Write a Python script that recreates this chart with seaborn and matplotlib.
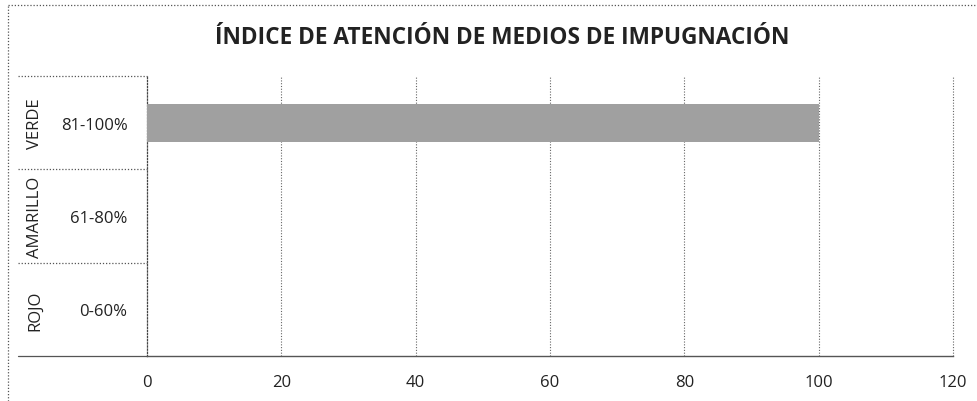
import seaborn as sns
import pandas as pd
import matplotlib.pyplot as plt
from matplotlib.lines import Line2D

# data
grupos = ['VERDE', 'AMARILLO', 'ROJO']
rangos = ['81-100%', '61-80%', '0-60%']
valores = [100, 0, 0]
x_ticks = [0, 20, 40, 60, 80, 100, 120]
titulo = 'ÍNDICE DE ATENCIÓN DE MEDIOS DE IMPUGNACIÓN'

df = pd.DataFrame({'Rango': rangos, 'Grupo': grupos, 'Valor': valores})

sns.set_style('white')
plt.rcParams['font.family'] = ['Open Sans', 'DejaVu Sans']

fig = plt.figure(figsize=(9.77, 4.02), dpi=100)
ax = fig.add_axes([147 / 977, 1 - 357 / 402, 806 / 977, 280 / 402])

sns.barplot(data=df, x='Valor', y='Rango', orient='h', color='#a0a0a0',
            width=0.41, saturation=1, linewidth=0, ax=ax, zorder=3)
ax.set_xlim(0, 120)
ax.set_ylim(2.5, -0.5)
ax.set_xticks(x_ticks)
ax.set_xticklabels([str(t) for t in x_ticks], fontsize=12, color='#222222')
ax.tick_params(axis='x', length=0, pad=13)
ax.tick_params(axis='y', length=0, pad=14, labelsize=12, labelcolor='#222222')
ax.set_xlabel('')
ax.set_ylabel('')

# dotted vertical gridlines
dot = (0, (1, 1.5))
for t in x_ticks[1:]:
    ax.axvline(t, color='#666666', lw=0.8, ls=dot, clip_on=False, zorder=1)

for s in ['top', 'right']:
    ax.spines[s].set_visible(False)
ax.spines['left'].set_linestyle(dot)
ax.spines['left'].set_color('#444444')
ax.spines['left'].set_linewidth(0.9)
ax.spines['bottom'].set_color('#555555')
ax.spines['bottom'].set_linewidth(1.0)

# table-style category axis on the left
x0 = (18 - 147) / 806
for yy in [1, 2 / 3, 1 / 3, 0]:
    ls = dot if yy > 0 else '-'
    ax.plot([x0, 0], [yy, yy], transform=ax.transAxes, color='#555555',
            lw=0.9, ls=ls, clip_on=False)
for i, g in enumerate(grupos):
    ax.text((35 - 147) / 806, i, g, rotation=90, ha='center', va='center',
            fontsize=12, color='#222222', transform=ax.get_yaxis_transform())

fig.text(502 / 977, 1 - 38 / 402, titulo, ha='center', va='center',
         fontsize=16.3, fontweight='bold', color='#222222')

# dotted frame around the chart area
fig.add_artist(Line2D([8 / 977, 1.0], [1 - 6 / 402, 1 - 6 / 402], color='#555555',
                      lw=0.9, ls=dot, transform=fig.transFigure))
fig.add_artist(Line2D([8 / 977, 8 / 977], [0.0, 1 - 6 / 402], color='#555555',
                      lw=0.9, ls=dot, transform=fig.transFigure))

plt.savefig('out.png', dpi=100, facecolor='white')
